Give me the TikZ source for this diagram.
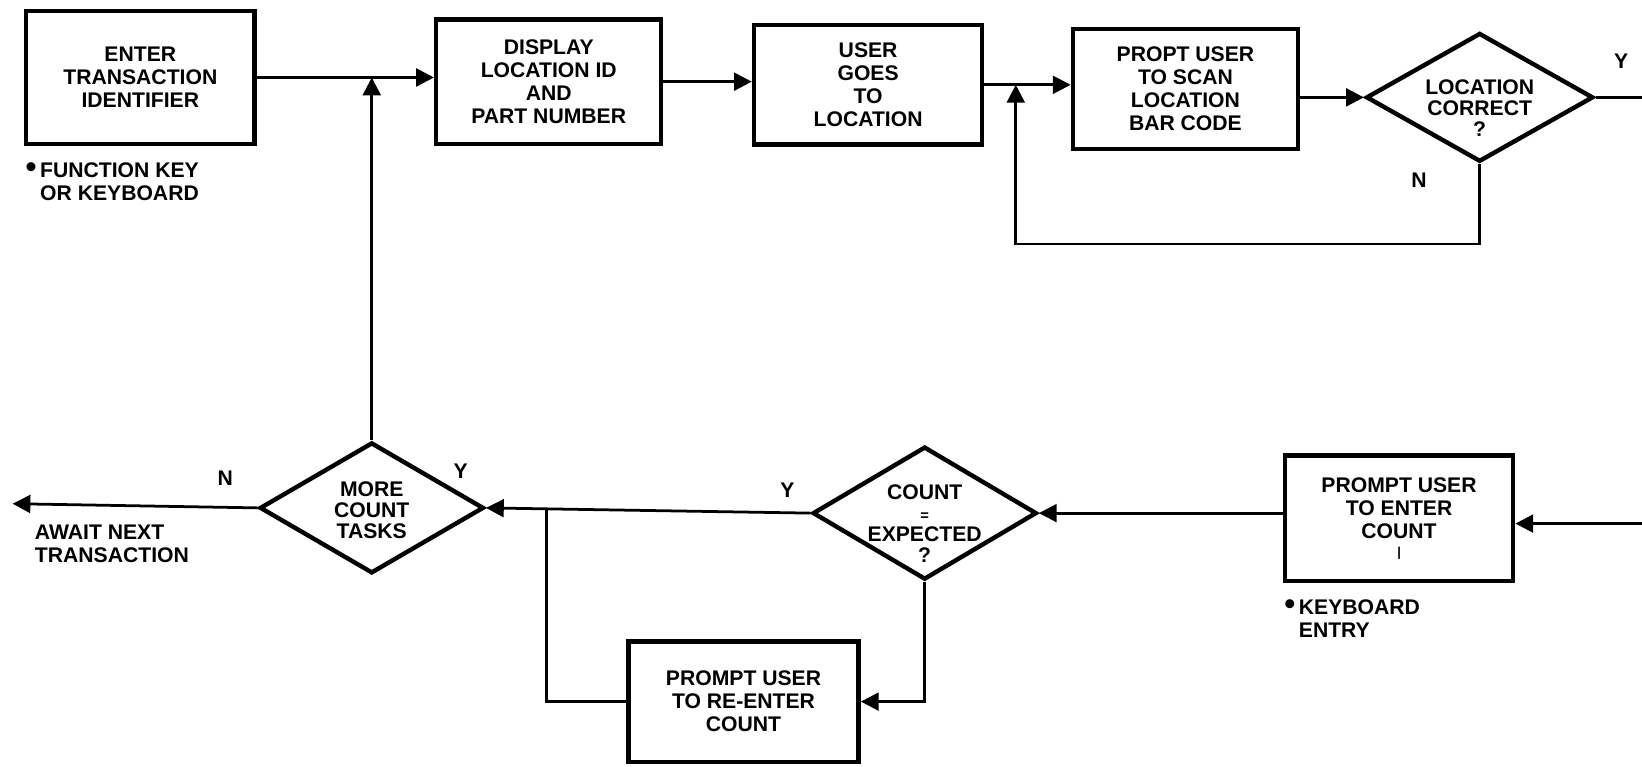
\documentclass[tikz,border=0pt]{standalone}
\usepackage{fontspec}
\setmainfont{Liberation Sans}
\usetikzlibrary{shapes.geometric,arrows.meta}

\newcommand{\notedot}{{\fontsize{17}{12}\selectfont\textbullet}}

\begin{document}
\begin{tikzpicture}[x=0.02cm,y=-0.02cm,
    every node/.style={font=\fontsize{11.5}{12.5}\selectfont\bfseries,align=center},
    procbox/.style={draw,line width=2.4pt,inner sep=2pt},
    decision/.style={draw,diamond,line width=2.4pt,inner sep=-1cm},
    dtext/.style={font=\fontsize{11.5}{11.5}\selectfont\bfseries,inner sep=0pt},
    flow/.style={line width=1.5pt},
    flowarrow/.style={flow,-{Triangle[length=0.34cm,width=0.34cm]}},
    note/.style={anchor=north west,align=left,inner sep=0pt}]
    \useasboundingbox (0,0) rectangle (1568,732);
    % Top row
    \node[procbox,minimum width=4.36cm,minimum height=2.54cm] (enter) at (134,74)
        {ENTER\\TRANSACTION\\IDENTIFIER};
    \node[note] (fkey) at (38,155) {\llap{\notedot\,}FUNCTION KEY\\OR KEYBOARD};
    \node[procbox,minimum width=4.3cm,minimum height=2.38cm] (display) at (524,78)
        {DISPLAY\\LOCATION ID\\AND\\PART NUMBER};
    \node[procbox,minimum width=4.36cm,minimum height=2.28cm] (goes) at (829,81)
        {USER\\GOES\\TO\\LOCATION};
    \node[procbox,minimum width=4.3cm,minimum height=2.3cm] (scan) at (1132,85)
        {PROPT USER\\TO SCAN\\LOCATION\\BAR CODE};
    \node[decision,minimum width=4.34cm,minimum height=2.46cm,
          label={[dtext,yshift=-0.2cm]center:LOCATION\\CORRECT\\?}] (loccorr) at (1413,93) {};
    \node (ylc) at (1548,58) {Y};
    \node (nlc) at (1355,172) {N};
    \coordinate (outy) at (1568,93);
    \coordinate (loopn) at (970,233);
    % Bottom row
    \node[procbox,minimum width=4.36cm,minimum height=2.4cm] (entercount) at (1336,495)
        {PROMPT USER\\TO ENTER\\COUNT\\[-3pt]{\fontsize{7}{7}\selectfont |}};
    \coordinate (iny) at (1568,500);
    \node[note] (kbd) at (1240,572) {\llap{\notedot\,}KEYBOARD\\ENTRY};
    \node[decision,minimum width=4.28cm,minimum height=2.54cm,
          label={[dtext,yshift=-0.2cm]center:COUNT\\{\fontsize{8}{8}\selectfont =}\\EXPECTED\\?}]
          (countexp) at (883,490) {};
    \node (yce) at (752,468) {Y};
    \node[decision,minimum width=4.28cm,minimum height=2.5cm,
          label={[dtext,yshift=-0.05cm]center:MORE\\COUNT\\TASKS}] (more) at (355,485) {};
    \node (ymo) at (440,450) {Y};
    \node (nmo) at (215,457) {N};
    \coordinate (awaitend) at (12,481);
    \node[note] (await) at (33,501) {AWAIT NEXT\\TRANSACTION};
    \node[procbox,minimum width=4.4cm,minimum height=2.3cm] (reenter) at (710,670)
        {PROMPT USER\\TO RE-ENTER\\COUNT};
    \coordinate (rejoin) at (522,487);
    % Connectors
    \draw[flowarrow] (enter.east) -- (enter.east -| display.west);
    \draw[flowarrow] (more.north) -- (more.north |- enter.east);
    \draw[flowarrow] (display.east) -- (display.east -| goes.west);
    \draw[flowarrow] (goes.east) -- (goes.east -| scan.west);
    \draw[flowarrow] (scan.east |- loccorr.west) -- (loccorr.west);
    \draw[flow] (loccorr.east) -- (outy);
    \draw[flowarrow] (loccorr.south) |- (loopn) -- (loopn |- goes.east);
    \draw[flowarrow] (iny) -- (iny -| entercount.east);
    \draw[flowarrow] (entercount.west |- countexp.east) -- (countexp.east);
    \draw[flowarrow] (countexp.west) -- (more.east);
    \draw[flowarrow] (more.west) -- (awaitend);
    \draw[flowarrow] (countexp.south) |- (reenter.east);
    \draw[flow] (reenter.west) -| (rejoin);
\end{tikzpicture}
\end{document}
